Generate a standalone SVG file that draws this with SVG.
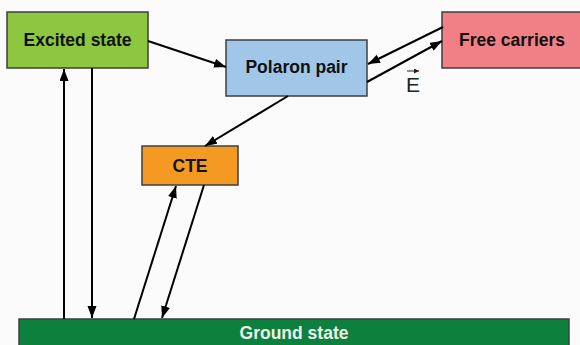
<svg xmlns="http://www.w3.org/2000/svg" width="580" height="345" viewBox="0 0 580 345">
<defs>
<marker id="ah" markerUnits="userSpaceOnUse" markerWidth="13" markerHeight="10" refX="12" refY="4.5" orient="auto">
<path d="M0,0 L12,4.5 L0,9 z" fill="#000"/>
</marker>
<marker id="ahs" markerUnits="userSpaceOnUse" markerWidth="6" markerHeight="6" refX="5" refY="2.5" orient="auto">
<path d="M0,0 L5,2.5 L0,5 z" fill="#222"/>
</marker>
<style>
.box{stroke:#3f3f3f;stroke-width:1.5}
.lbl{font-family:"Liberation Sans",Arial,sans-serif;font-weight:bold;font-size:17.5px;text-anchor:middle;fill:#111}
.c{stroke:#000;stroke-width:2;fill:none;marker-end:url(#ah)}
</style>
</defs>
<rect width="580" height="345" fill="#fbfbfb"/>
<g id="excited">
<rect class="box" x="7" y="12" width="141" height="56" fill="#8dc63f"/>
<text class="lbl" x="77.5" y="45.5">Excited state</text>
</g>
<g id="polaron">
<rect class="box" x="226" y="40" width="141" height="56" fill="#a0c7e8"/>
<text class="lbl" x="296.5" y="72.5">Polaron pair</text>
</g>
<g id="free">
<rect class="box" x="442" y="12" width="145" height="56" fill="#f08085"/>
<text class="lbl" x="512" y="45.5">Free carriers</text>
</g>
<g id="cte">
<rect class="box" x="142" y="146" width="96" height="39" fill="#f49a23"/>
<text class="lbl" x="190" y="171.5">CTE</text>
</g>
<g id="ground">
<rect class="box" x="19" y="319" width="550" height="40" fill="#0d803e"/>
<text class="lbl" x="294" y="338.5" style="fill:#eaf2ea">Ground state</text>
</g>
<g id="connectors">
<line class="c" x1="64" y1="319" x2="64" y2="69"/>
<line class="c" x1="92" y1="68" x2="92" y2="318"/>
<line class="c" x1="148" y1="41" x2="226" y2="67"/>
<line class="c" x1="288" y1="96" x2="205" y2="146"/>
<line class="c" x1="134" y1="319" x2="176" y2="186"/>
<line class="c" x1="204" y1="185" x2="162" y2="318"/>
<line class="c" x1="443" y1="27" x2="368" y2="64"/>
<line class="c" x1="367" y1="82" x2="442" y2="41"/>
</g>
<g id="field">
<line x1="407" y1="71" x2="419" y2="71" stroke="#222" stroke-width="1" marker-end="url(#ahs)"/>
<text x="413" y="92" font-family="'Liberation Sans',Arial,sans-serif" font-size="21" text-anchor="middle" fill="#222">E</text>
</g>
</svg>
